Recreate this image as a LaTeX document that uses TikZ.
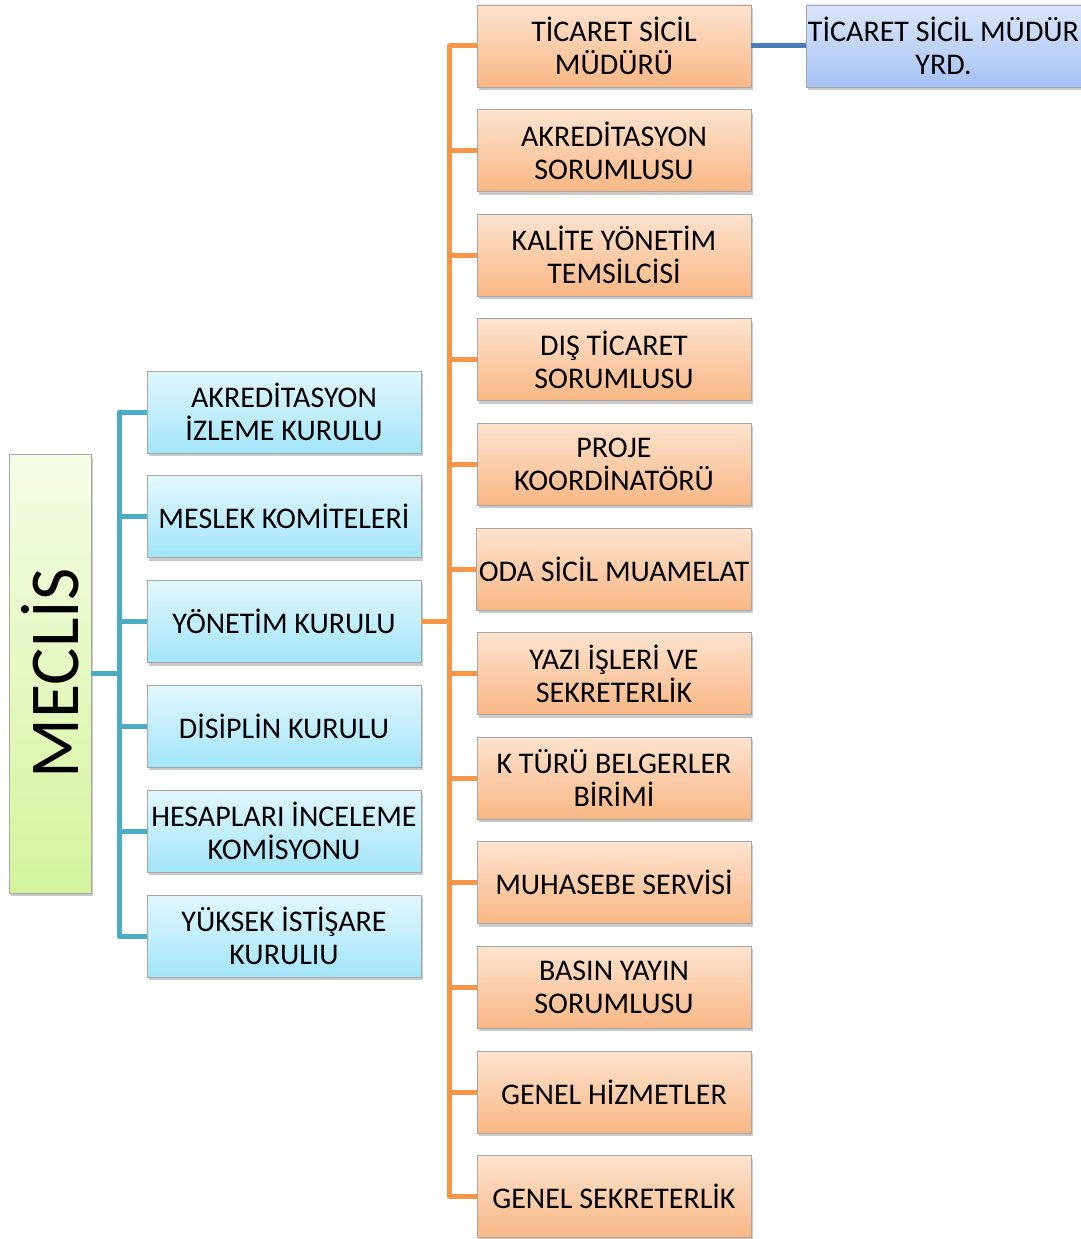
\documentclass[tikz,border=0pt]{standalone}
\usepackage{fontspec}
\setmainfont{Carlito}
\usetikzlibrary{shadows,shadings}
\definecolor{orline}{HTML}{F79646}
\definecolor{blline}{HTML}{4BACC6}
\definecolor{stline}{HTML}{4A7EBB}
\definecolor{ortop}{HTML}{FDE3CE}
\definecolor{orbot}{HTML}{F9B784}
\definecolor{bltop}{HTML}{E2F7FD}
\definecolor{blbot}{HTML}{A2E5FA}
\definecolor{sttop}{HTML}{DAE6FB}
\definecolor{stbot}{HTML}{A6C2F4}
\definecolor{grtop}{HTML}{F5FDE6}
\definecolor{grbot}{HTML}{D4F49C}
\tikzset{
  boxbase/.style={draw=black!35, line width=0.8pt, minimum width=274pt, minimum height=82pt,
    align=center, inner sep=2pt, font=\fontsize{30}{33}\selectfont,
    drop shadow={shadow xshift=2pt, shadow yshift=-3pt, opacity=0.35, fill=black!60}},
  orbox/.style={boxbase, top color=ortop, bottom color=orbot},
  blbox/.style={boxbase, top color=bltop, bottom color=blbot},
  stbox/.style={boxbase, top color=sttop, bottom color=stbot},
  orlink/.style={draw=orline, line width=5pt, line join=round},
  bllink/.style={draw=blline, line width=5pt, line join=round},
  stlink/.style={draw=stline, line width=5pt},
}
\begin{document}
\begin{tikzpicture}[x=1pt,y=-1pt]
\useasboundingbox (0,0) rectangle (1081,1239);
% MECLIS
\node[draw=black!35, line width=0.8pt, minimum width=82pt, minimum height=439pt,
  top color=grtop, bottom color=grbot,
  drop shadow={shadow xshift=2pt, shadow yshift=-3pt, opacity=0.35, fill=black!60}]
  (meclis) at (50,673.5) {};
\node[rotate=90, font=\fontsize{70}{72}\selectfont] (mtext) at (meclis.center) {MECLİS};
% blue boxes
\node[blbox] (b1) at (284,412) {AKREDİTASYON\\İZLEME KURULU};
\node[blbox] (b2) at (284,516.8) {MESLEK KOMİTELERİ};
\node[blbox] (b3) at (284,621.6) {YÖNETİM KURULU};
\node[blbox] (b4) at (284,726.4) {DİSİPLİN KURULU};
\node[blbox] (b5) at (284,831.2) {HESAPLARI İNCELEME\\KOMİSYONU};
\node[blbox] (b6) at (284,936) {YÜKSEK İSTİŞARE\\KURULIU};
% orange boxes
\node[orbox] (o1) at (614,46) {TİCARET SİCİL\\MÜDÜRÜ};
\node[orbox] (o2) at (614,150.6) {AKREDİTASYON\\SORUMLUSU};
\node[orbox] (o3) at (614,255.2) {KALİTE YÖNETİM\\TEMSİLCİSİ};
\node[orbox] (o4) at (614,359.8) {DIŞ TİCARET\\SORUMLUSU};
\node[orbox] (o5) at (614,464.4) {PROJE\\KOORDİNATÖRÜ};
\node[orbox] (o6) at (614,569) {ODA SİCİL MUAMELAT};
\node[orbox] (o7) at (614,673.6) {YAZI İŞLERİ VE\\SEKRETERLİK};
\node[orbox] (o8) at (614,778.2) {K TÜRÜ BELGERLER\\BİRİMİ};
\node[orbox] (o9) at (614,882.8) {MUHASEBE SERVİSİ};
\node[orbox] (o10) at (614,987.4) {BASIN YAYIN\\SORUMLUSU};
\node[orbox] (o11) at (614,1092) {GENEL HİZMETLER};
\node[orbox] (o12) at (614,1196.6) {GENEL SEKRETERLİK};
% top right
\node[stbox] (yrd) at (943.5,46) {TİCARET SİCİL MÜDÜR\\YRD.};
% connectors
\coordinate (bt) at (119,673.5);
\coordinate (ot) at (449,621.6);
\draw[bllink] (meclis.east) -- (bt);
\draw[bllink] (b1.west) -- (b1.west -| bt) -- (b6.west -| bt) -- (b6.west);
\foreach \n in {b2,b3,b4,b5} \draw[bllink] (\n.west) -- (\n.west -| bt);
\draw[orlink] (b3.east) -- (ot);
\draw[orlink] (o1.west) -- (o1.west -| ot) -- (o12.west -| ot) -- (o12.west);
\foreach \n in {o2,o3,o4,o5,o6,o7,o8,o9,o10,o11} \draw[orlink] (\n.west) -- (\n.west -| ot);
\draw[stlink] (o1.east) -- (yrd.west);
\end{tikzpicture}
\end{document}
